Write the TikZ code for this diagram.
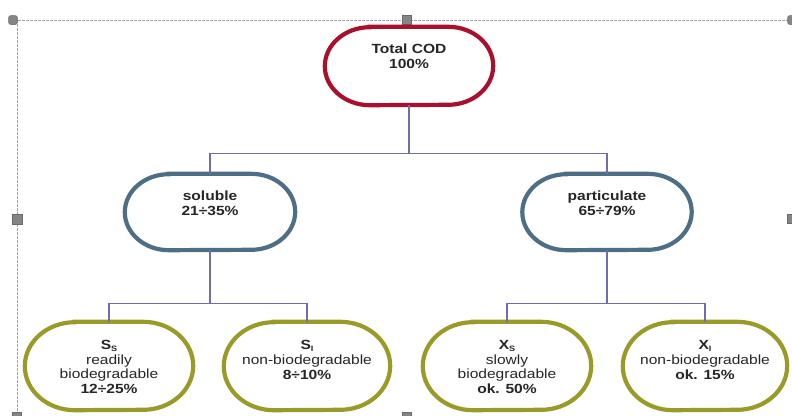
\documentclass[tikz,border=0pt]{standalone}
\usepackage{fontspec}
\newfontfamily\lab[FakeStretch=1.17]{Liberation Sans}
\definecolor{cred}{HTML}{A8102E}
\definecolor{cteal}{HTML}{4D6E84}
\definecolor{colive}{HTML}{9A9A28}
\definecolor{cline}{HTML}{6E6EAE}
\definecolor{cframe}{HTML}{A4A4A4}
\definecolor{chandle}{HTML}{858585}
\newcommand{\subS}[1]{\raisebox{-1.8pt}{\fontsize{7.8}{8}\selectfont #1}}
% pill outline around a named node: name, colour, x radius, y radius
\newcommand{\pillpath}[4]{%
  \draw[draw=#2, line width=4.2pt, fill=white]
    ([xshift=#3]#1.north west) -- ([xshift=-#3]#1.north east)
    arc[start angle=90, end angle=-90, x radius=#3, y radius=#4]
    -- ([xshift=#3]#1.south west)
    arc[start angle=270, end angle=90, x radius=#3, y radius=#4] -- cycle;}
\tikzset{
  box/.style={inner sep=0pt, draw=none},
  txt/.style={font=\lab\fontsize{13.3}{14.6}\selectfont, align=center, inner sep=0pt, text=black!85},
  conn/.style={draw=cline, line width=1.1pt},
  frm/.style={draw=cframe, line width=0.9pt, dash pattern=on 2.5pt off 1.5pt},
  hsq/.style={draw=chandle!80!black, fill=chandle, line width=0.5pt, minimum size=9pt, inner sep=0pt},
  hrd/.style={hsq, rounded corners=2.5pt}
}
\begin{document}
\begin{tikzpicture}[x=1pt,y=-1pt]
\useasboundingbox (0,0) rectangle (792,415);
% selection frame
\coordinate (ftl) at (14,20);
\coordinate (ftr) at (792,20);
\coordinate (fbl) at (17,415);
\draw[frm] (ftl) -- (ftr);
\draw[frm] (17,20) -- (fbl);
\node[hrd] (h1) at (13,20) {};
\node[hsq] (h2) at (407,20) {};
\node[hrd] (h3) at (792,20) {};
\node[hsq, minimum size=10pt] (h4) at (17,219) {};
\node[hsq] (h5) at (792,219) {};
\node[hsq] (h6) at (17,417) {};
\node[hsq] (h7) at (407,417) {};

% shapes (named boxes, outlined as pills)
\node[box, minimum width=168pt, minimum height=78pt] (top) at (409,66) {};
\node[box, minimum width=170pt, minimum height=76pt] (sol) at (210,212) {};
\node[box, minimum width=169pt, minimum height=76pt] (par) at (607,212) {};
\node[box, minimum width=168pt, minimum height=88pt] (ss) at (109,366) {};
\node[box, minimum width=166pt, minimum height=88pt] (si) at (307,366) {};
\node[box, minimum width=168pt, minimum height=88pt] (xs) at (507,366) {};
\node[box, minimum width=164pt, minimum height=88pt] (xi) at (705,366) {};
\pillpath{top}{cred}{45pt}{39pt}
\pillpath{sol}{cteal}{44pt}{38pt}
\pillpath{par}{cteal}{44pt}{38pt}
\pillpath{ss}{colive}{50pt}{44pt}
\pillpath{si}{colive}{50pt}{44pt}
\pillpath{xs}{colive}{50pt}{44pt}
\pillpath{xi}{colive}{50pt}{44pt}

% texts
\node[txt] (topt) at (409,56) {\bfseries Total COD\\\bfseries 100\%};
\node[txt] (solt) at (210,203) {\bfseries soluble\\\bfseries 21÷35\%};
\node[txt] (part) at (607,203) {\bfseries particulate\\\bfseries 65÷79\%};
\node[txt] (sst) at (109,367) {\bfseries S\subS{S}\\readily\\biodegradable\\\bfseries 12÷25\%};
\node[txt] (sit) at (307,360) {\bfseries S\subS{I}\\non-biodegradable\\\bfseries 8÷10\%};
\node[txt] (xst) at (507,367) {\bfseries X\subS{S}\\slowly\\biodegradable\\\bfseries ok. 50\%};
\node[txt] (xit) at (705,360) {\bfseries X\subS{I}\\non-biodegradable\\\bfseries ok. 15\%};

% connectors
\draw[conn] (top.south) -- ++(0,48) -| (sol.north);
\draw[conn] (top.south) ++(0,48) -| (par.north);
\draw[conn] (sol.south) -- ++(0,53) -| (ss.north);
\draw[conn] (sol.south) ++(0,53) -| (si.north);
\draw[conn] (par.south) -- ++(0,53) -| (xs.north);
\draw[conn] (par.south) ++(0,53) -| (xi.north);
\end{tikzpicture}
\end{document}
